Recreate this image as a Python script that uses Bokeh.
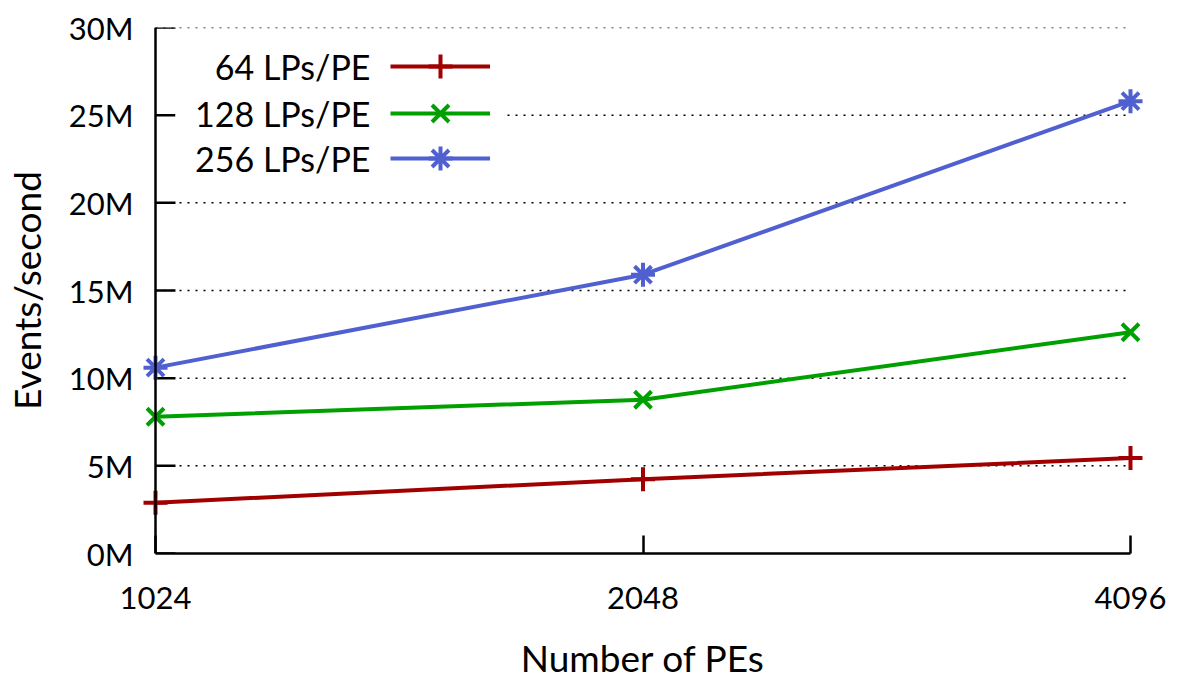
from bokeh.plotting import figure
from bokeh.models import (Range1d, FixedTicker, PrintfTickFormatter, Legend, LegendItem,
                          Label, BoxAnnotation, LinearAxis, LogAxis, Span)
from bokeh.embed import file_html
from bokeh.resources import INLINE

# ---- data ----
pes = [1024, 2048, 4096]
series_names = ["64 LPs/PE", "128 LPs/PE", "256 LPs/PE"]
lp64 = [2.9, 4.24, 5.44]        # millions of events/second
lp128 = [7.8, 8.77, 12.62]
lp256 = [10.6, 15.9, 25.8]
y_ticks = [0, 5, 10, 15, 20, 25, 30]
x_label = "Number of PEs"
y_label = "Events/second"

series = [lp64, lp128, lp256]
colors = ["#A00000", "#00A000", "#5060D0"]
markers = ["cross", "x", "asterisk"]
FONT = "Lato"

PX_PER_OCT = 487.5
FRAME_W, FRAME_H = 1003, 526
pad = 2 ** (14 / PX_PER_OCT)
p = figure(width=1171, height=684, output_backend="svg", toolbar_location=None,
           x_axis_type="log",
           x_range=Range1d(pes[0] / pad, pes[-1] * pad),
           y_range=Range1d(y_ticks[0], y_ticks[-1]),
           x_axis_location=None, y_axis_location=None,
           min_border_left=141, min_border_right=27, min_border_top=27, min_border_bottom=131)
p.outline_line_color = None
p.xgrid.visible = False
p.ygrid.visible = False
p.background_fill_color = "white"

# axes
xa = LogAxis(ticker=FixedTicker(ticks=pes), formatter=PrintfTickFormatter(format="%d"),
             bounds=(pes[0], pes[-1]))
ya = LinearAxis(ticker=FixedTicker(ticks=y_ticks), formatter=PrintfTickFormatter(format="%dM"))
for ax in (xa, ya):
    ax.axis_line_color = "black"
    ax.axis_line_width = 2.5
    ax.major_tick_line_color = "black"
    ax.major_tick_line_width = 2.5
    ax.major_tick_out = 0
    ax.minor_tick_line_color = None
    ax.major_label_text_font = FONT
    ax.major_label_text_font_size = "31px"
    ax.major_label_text_color = "black"
    ax.axis_label_text_font = FONT
    ax.axis_label_text_font_size = "37px"
    ax.axis_label_text_font_style = "normal"
    ax.axis_label_text_color = "black"
xa.major_tick_in = 18
# y axis line and ticks are drawn at x = 1024 (frame is padded so end markers are not cut)
ya.axis_line_color = None
ya.major_tick_line_color = None
xa.axis_label = x_label
ya.axis_label = y_label
xa.major_label_standoff = 33
xa.axis_label_standoff = 23
ya.major_label_standoff = 8
ya.axis_label_standoff = 17
p.add_layout(xa, "below")
p.add_layout(ya, "left")

p.add_layout(Span(location=pes[0], dimension="height", line_color="black", line_width=2.5))

# dotted grid lines between the axis bounds
gy = [t for t in y_ticks if t > 0]
p.multi_line(xs=[[pes[0], pes[-1]] for _ in gy], ys=[[t, t] for t in gy],
             line_color="black", line_width=1.5, line_dash="2 6")
# inward y ticks (20 px long)
tick_len = 2 ** (20 / PX_PER_OCT)
p.segment(x0=[pes[0]] * len(y_ticks), x1=[pes[0] * tick_len] * len(y_ticks),
          y0=y_ticks, y1=y_ticks, line_color="black", line_width=2.5)

renderers = []
for name, ys, c, m in zip(series_names, series, colors, markers):
    lr = p.line(pes, ys, line_color=c, line_width=4)
    sr = p.scatter(pes, ys, marker=m, size=24, line_color=c, fill_color=c, line_width=4)
    renderers.append((lr, sr))

# white legend background
p.add_layout(BoxAnnotation(left=34, right=364, top=513, bottom=368,
                           left_units="screen", right_units="screen",
                           top_units="screen", bottom_units="screen",
                           fill_color="white", fill_alpha=1.0, line_color=None))

# legend: text on the left, sample on the right (one legend per row)
row_centers = [39, 86, 131]   # px below the frame top
for name, (lr, sr), c in zip(series_names, renderers, row_centers):
    lg = Legend(items=[LegendItem(label=" ", renderers=[lr, sr])],
                location=(249, FRAME_H - (c + 30)), orientation="vertical",
                glyph_width=100, glyph_height=60, label_height=60, label_width=1,
                label_text_font_size="1px", spacing=0, padding=0, margin=0,
                border_line_color=None, background_fill_alpha=0.0)
    p.add_layout(lg, "center")
    p.add_layout(Label(x=229, y=FRAME_H - c, x_units="screen", y_units="screen", text=name,
                       text_align="right", text_baseline="middle",
                       text_font=FONT, text_font_size="34px", text_color="black"))

open("out.html", "w").write(file_html(p, INLINE))
